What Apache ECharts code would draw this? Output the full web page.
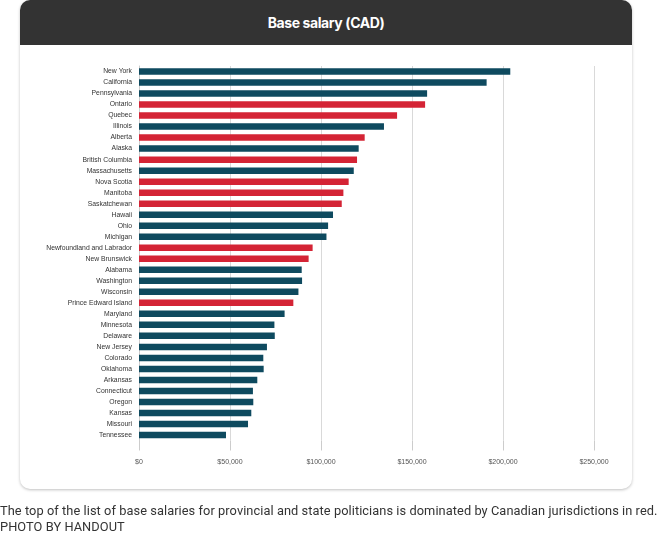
<!DOCTYPE html>
<html>
<head>
<meta charset="utf-8">
<script src="https://cdn.jsdelivr.net/npm/echarts@6/dist/echarts.min.js"></script>
<style>
  html, body { margin: 0; padding: 0; background: #fff; width: 659px; height: 541px; overflow: hidden; }
  .card {
    position: absolute; left: 20px; top: 0; width: 612px; height: 489px;
    border-radius: 10px; background: #fff;
    box-shadow: 0 1px 3px rgba(0,0,0,0.25); overflow: hidden;
  }
  .card .head {
    height: 45px; background: #333; color: #fff;
    font-family: Inter, Roboto, sans-serif; font-weight: 700; font-size: 14px;
    letter-spacing: -0.4px; text-align: center; line-height: 46px;
  }
  #chart { position: absolute; left: 0; top: 0; width: 659px; height: 541px; }
  .caption {
    position: absolute; left: 0; top: 503px; width: 700px; white-space: nowrap;
    font-family: Roboto, sans-serif; font-size: 12.8px; line-height: 16px; color: #333;
    letter-spacing: 0.07px;
  }
</style>
</head>
<body>
<div class="card"><div class="head">Base salary (CAD)</div></div>
<div id="chart"></div>
<div class="caption">The top of the list of base salaries for provincial and state politicians is dominated by Canadian jurisdictions in red.<br>PHOTO BY HANDOUT</div>
<script>
// jurisdictions, top to bottom
const places = [
  "New York", "California", "Pennsylvania", "Ontario", "Quebec", "Illinois",
  "Alberta", "Alaska", "British Columbia", "Massachusetts", "Nova Scotia",
  "Manitoba", "Saskatchewan", "Hawaii", "Ohio", "Michigan",
  "Newfoundland and Labrador", "New Brunswick", "Alabama", "Washington",
  "Wisconsin", "Prince Edward Island", "Maryland", "Minnesota", "Delaware",
  "New Jersey", "Colorado", "Oklahoma", "Arkansas", "Connecticut", "Oregon",
  "Kansas", "Missouri", "Tennessee"
];
// base salary in CAD
const salary = [
  204000, 191000, 158300, 157200, 141800, 134600,
  124000, 120700, 119800, 118000, 115200,
  112300, 111400, 106600, 103900, 103000,
  95400, 93200, 89400, 89600,
  87600, 84800, 80000, 74400, 74600,
  70300, 68300, 68500, 65000, 62600, 62800,
  61700, 59900, 47800
];
// true = Canadian province
const canadian = [
  false, false, false, true, true, false,
  true, false, true, false, true,
  true, true, false, false, false,
  true, true, false, false,
  false, true, false, false, false,
  false, false, false, false, false, false,
  false, false, false
];
const xTicks = [0, 50000, 100000, 150000, 200000, 250000];

const chart = echarts.init(document.getElementById("chart"));
const option = {
  backgroundColor: "transparent",
  animation: false,
  grid: { left: 139, top: 66, width: 455, height: 374.5 },
  xAxis: {
    type: "value",
    min: xTicks[0],
    max: xTicks[xTicks.length - 1],
    interval: 50000,
    axisLine: { show: false },
    axisTick: { show: true, length: 10, lineStyle: { color: "#cccccc" } },
    splitLine: { show: true, lineStyle: { color: "#d9d9d9", width: 1 } },
    axisLabel: {
      margin: 18,
      fontSize: 7,
      color: "#555",
      fontFamily: "Liberation Sans, Arial, sans-serif",
      formatter: (v) => "$" + v.toLocaleString("en-US")
    }
  },
  yAxis: {
    type: "category",
    inverse: true,
    data: places,
    axisLine: { show: true, lineStyle: { color: "#cccccc" } },
    axisTick: { show: false },
    axisLabel: {
      margin: 7,
      fontSize: 6.8,
      color: "#333",
      fontFamily: "Liberation Sans, Arial, sans-serif"
    }
  },
  series: [
    {
      type: "bar",
      barWidth: 6.5,
      data: salary.map((v, i) => ({
        value: v,
        itemStyle: { color: canadian[i] ? "#d42435" : "#0e4a5f" }
      }))
    }
  ]
};
chart.setOption(option);
</script>
</body>
</html>
